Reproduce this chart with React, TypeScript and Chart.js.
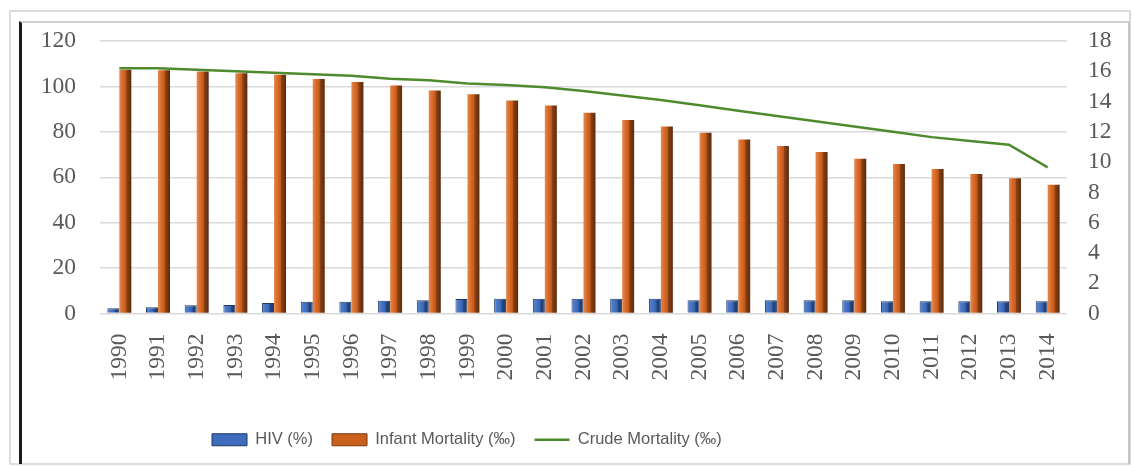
import React, { useEffect, useRef } from 'react';
import { Chart, registerables } from 'chart.js';

Chart.register(...registerables);

const years = ['1990', '1991', '1992', '1993', '1994', '1995', '1996', '1997', '1998', '1999', '2000', '2001', '2002', '2003', '2004', '2005', '2006', '2007', '2008', '2009', '2010', '2011', '2012', '2013', '2014'];
const hiv = [2.3, 2.8, 3.6, 3.7, 4.6, 5.2, 5.2, 5.6, 5.8, 6.4, 6.5, 6.5, 6.5, 6.5, 6.5, 5.8, 5.8, 5.8, 5.8, 5.8, 5.4, 5.4, 5.4, 5.4, 5.4];
const infantMortality = [107.3, 107.1, 106.6, 105.8, 105.1, 103.3, 102.0, 100.4, 98.2, 96.5, 93.8, 91.6, 88.4, 85.2, 82.4, 79.6, 76.6, 73.8, 71.1, 68.2, 65.8, 63.6, 61.4, 59.6, 56.7];
const crudeMortality = [16.2, 16.2, 16.1, 16.0, 15.9, 15.8, 15.7, 15.5, 15.4, 15.2, 15.1, 14.95, 14.7, 14.4, 14.1, 13.75, 13.4, 13.05, 12.7, 12.35, 12.0, 11.65, 11.4, 11.15, 9.65];
const leftTicks = [0, 20, 40, 60, 80, 100, 120];
const rightTicks = [0, 2, 4, 6, 8, 10, 12, 14, 16, 18];

const CAT_PCT = 0.62;
const PLOT_LEFT = 100;
const PLOT_RIGHT = 1067;
const TICK_FONT = { family: '"Liberation Serif", "Times New Roman", serif', size: 23.5 };
const TICK_COLOR = '#595959';
const LEGEND_FILL = ['#3f6cbc', '#c9611d', '#4e8a2e'];

function barGradient(stackIndex: number, stops: [number, string][], fallback: string) {
  return (ctx: any) => {
    if (ctx.type !== 'data') return fallback;
    const chart = ctx.chart;
    const xs = chart.scales && chart.scales.x;
    if (!xs || !xs.width) return fallback;
    const cw = xs.width / years.length;
    const w = (cw * CAT_PCT) / 2;
    const center = xs.getPixelForValue(ctx.dataIndex);
    const x0 = center - (cw * CAT_PCT) / 2 + stackIndex * w;
    const g = chart.ctx.createLinearGradient(x0, 0, x0 + w, 0);
    stops.forEach(([p, c]) => g.addColorStop(p, c));
    return g;
  };
}

const LEGEND_PAD = 19;
const legendShift = {
  id: 'legendShift',
  afterLayout(chart: any) {
    const lg = chart.legend;
    if (!lg) return;
    const w = lg.right - lg.left;
    lg.left = 212 - LEGEND_PAD;
    lg.right = lg.left + w;
  },
};

export default function App() {
  const ref = useRef<HTMLCanvasElement | null>(null);

  useEffect(() => {
    if (!ref.current) return;
    const chart = new Chart(ref.current, {
      type: 'bar',
      data: {
        labels: years,
        datasets: [
          {
            type: 'bar',
            label: 'HIV (%)',
            data: hiv,
            yAxisID: 'y',
            backgroundColor: barGradient(0, [[0, '#5b86d0'], [0.55, '#3a67b8'], [0.7, '#24467f'], [1, '#1c355f']], '#3f6cbc'),
            borderColor: '#1f3864',
            borderWidth: 1,
            categoryPercentage: CAT_PCT,
            barPercentage: 1,
            pointStyle: 'rect',
            order: 2,
          },
          {
            type: 'bar',
            label: 'Infant Mortality (‰)',
            data: infantMortality,
            yAxisID: 'y',
            backgroundColor: barGradient(1, [[0, '#e48a4c'], [0.3, '#d8692a'], [0.55, '#c45a18'], [0.62, '#8a4216'], [1, '#5a2a0c']], '#c55a11'),
            borderWidth: 0,
            categoryPercentage: CAT_PCT,
            barPercentage: 1,
            pointStyle: 'rect',
            order: 2,
          },
          {
            type: 'line',
            label: 'Crude Mortality (‰)',
            data: crudeMortality,
            yAxisID: 'y1',
            borderColor: '#4e8a2e',
            backgroundColor: '#4e8a2e',
            borderWidth: 2.5,
            pointRadius: 0,
            pointStyle: 'line',
            tension: 0,
            order: 1,
          } as any,
        ],
      },
      options: {
        animation: false,
        responsive: false,
        maintainAspectRatio: false,
        layout: { padding: { left: 0, right: 0, top: 41, bottom: 9 } },
        plugins: {
          tooltip: { enabled: false },
          legend: {
            position: 'bottom',
            align: 'start',
            labels: {
              usePointStyle: true,
              pointStyleWidth: 35,
              boxHeight: 12,
              padding: LEGEND_PAD,
              color: TICK_COLOR,
              font: { family: '"Liberation Sans", Arial, sans-serif', size: 16.5 },
              sort: (a: any, b: any) => a.datasetIndex - b.datasetIndex,
              generateLabels(ch: any) {
                const items = (Chart.defaults.plugins.legend.labels as any).generateLabels(ch);
                items.forEach((it: any) => {
                  it.fillStyle = LEGEND_FILL[it.datasetIndex];
                  if (it.datasetIndex === 0) {
                    it.strokeStyle = '#1f3864';
                    it.lineWidth = 1;
                  }
                  if (it.datasetIndex === 1) {
                    it.strokeStyle = '#7a3a12';
                    it.lineWidth = 1;
                  }
                });
                return items;
              },
            },
          },
        },
        scales: {
          x: {
            grid: { display: false, drawTicks: false },
            border: { display: false },
            ticks: {
              color: TICK_COLOR,
              font: TICK_FONT,
              minRotation: 90,
              maxRotation: 90,
              autoSkip: false,
              padding: 20,
            },
            afterFit(s: any) {
              s.height = 99;
            },
          },
          y: {
            position: 'left',
            min: 0,
            max: 120,
            afterBuildTicks(s: any) {
              s.ticks = leftTicks.map((v) => ({ value: v }));
            },
            grid: { color: '#d9d9d9', lineWidth: 1.5, drawTicks: false },
            border: { display: false },
            ticks: { color: TICK_COLOR, font: TICK_FONT, padding: 24, autoSkip: false },
            afterFit(s: any) {
              s.width = PLOT_LEFT;
            },
          },
          y1: {
            position: 'right',
            min: 0,
            max: 18,
            afterBuildTicks(s: any) {
              s.ticks = rightTicks.map((v) => ({ value: v }));
            },
            grid: { display: false, drawTicks: false },
            border: { display: false },
            ticks: { color: TICK_COLOR, font: TICK_FONT, padding: 21, autoSkip: false },
            afterFit(s: any) {
              s.width = 1133 - PLOT_RIGHT;
            },
          },
        },
      },
      plugins: [legendShift],
    });
    return () => chart.destroy();
  }, []);

  return (
    <div style={{ position: 'fixed', left: 0, top: 0, width: 1133, height: 467, background: '#fff' }}>
      <div
        style={{
          position: 'absolute',
          left: 9,
          top: 10,
          width: 1118,
          height: 451,
          border: '2px solid #dcdcdc',
        }}
      />
      <div
        style={{
          position: 'absolute',
          left: 19,
          top: 21,
          width: 1106,
          height: 441,
          borderLeft: '3px solid #1a1a1a',
          borderTop: '2px solid #cfcfcf',
          borderRight: '2px solid #c4c4c4',
        }}
      />
      <canvas ref={ref} width={1133} height={467} style={{ position: 'absolute', left: 0, top: 0 }} />
    </div>
  );
}
